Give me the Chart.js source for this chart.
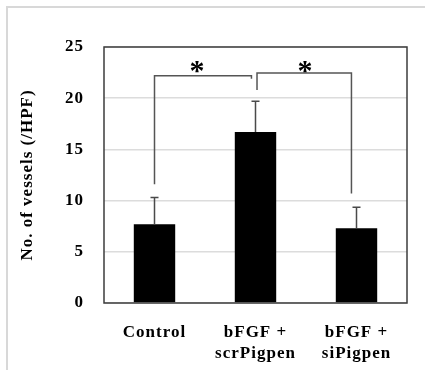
<!DOCTYPE html>
<html><head><meta charset="utf-8">
<script src="https://cdn.jsdelivr.net/npm/chart.js@4.4.1/dist/chart.umd.min.js"></script>
<style>
html,body{margin:0;padding:0;background:#fff;}
#wrap{position:relative;width:425px;height:370px;overflow:hidden;}
#frame{position:absolute;left:6px;top:6px;width:500px;height:500px;border-top:2px solid #d8d8d8;border-left:2px solid #d8d8d8;pointer-events:none;}
canvas{position:absolute;left:0;top:0;}
</style></head><body>
<div id="wrap"><canvas id="c" width="425" height="370"></canvas><div id="frame"></div></div>
<script>
// ---- data ----
const categories = [['Control'], ['bFGF +', 'scrPigpen'], ['bFGF +', 'siPigpen']];
const meanVessels = [7.7, 16.7, 7.3];
const errorUpper = [10.3, 19.7, 9.35];
const yTicks = [0, 5, 10, 15, 20, 25];
const yTitle = 'No. of vessels (/HPF)';
// significance brackets (category index, value)
const bracket1X = [0, 0, 0.96, 0.96];
const bracket1Y = [11.6, 22.2, 22.2, 21.9];
const bracket2X = [1.015, 1.015, 1.95, 1.95];
const bracket2Y = [20.8, 22.45, 22.45, 10.7];
const starLabels = ['*', '*'];
const starX = [0.42, 1.49];
const starY = [22.55, 22.55];

const SERIF = '"Liberation Serif", "Times New Roman", serif';

const spacingPlugin = {
  id: 'spacing',
  beforeLayout(c) { c.ctx.letterSpacing = '1px'; },
  beforeDraw(c) { c.ctx.letterSpacing = '1px'; }
};

const extrasPlugin = {
  id: 'extras',
  afterDatasetsDraw(c) {
    const ctx = c.ctx, xs = c.scales.x, ys = c.scales.y, a = c.chartArea;
    ctx.save();
    // error bars
    ctx.strokeStyle = '#4a4a4a';
    ctx.lineWidth = 1.5;
    meanVessels.forEach((v, i) => {
      const x = xs.getPixelForValue(i);
      const y0 = ys.getPixelForValue(v);
      const y1 = ys.getPixelForValue(errorUpper[i]);
      ctx.beginPath();
      ctx.moveTo(x, y0); ctx.lineTo(x, y1);
      ctx.moveTo(x - 4, y1); ctx.lineTo(x + 4, y1);
      ctx.stroke();
    });
    // brackets
    ctx.strokeStyle = '#555';
    ctx.lineWidth = 1.5;
    [[bracket1X, bracket1Y], [bracket2X, bracket2Y]].forEach(([bx, by]) => {
      ctx.beginPath();
      bx.forEach((xv, k) => {
        const px = xs.getPixelForValue(xv), py = ys.getPixelForValue(by[k]);
        if (k === 0) ctx.moveTo(px, py); else ctx.lineTo(px, py);
      });
      ctx.stroke();
    });
    // stars
    ctx.letterSpacing = '0px';
    ctx.fillStyle = '#000';
    ctx.font = 'bold 30px ' + SERIF;
    ctx.textAlign = 'center';
    ctx.textBaseline = 'middle';
    starLabels.forEach((s, k) => {
      ctx.fillText(s, xs.getPixelForValue(starX[k]), ys.getPixelForValue(starY[k]));
    });
    // plot border
    ctx.strokeStyle = '#3c3c3c';
    ctx.lineWidth = 1.5;
    ctx.strokeRect(a.left, a.top, a.right - a.left, a.bottom - a.top);
    ctx.restore();
  }
};

new Chart(document.getElementById('c'), {
  type: 'bar',
  data: {
    labels: categories,
    datasets: [{
      data: meanVessels,
      backgroundColor: '#000',
      borderWidth: 0,
      barPercentage: 0.41,
      categoryPercentage: 1.0
    }]
  },
  options: {
    responsive: false,
    devicePixelRatio: 1,
    animation: false,
    layout: { padding: { left: 0, top: 47, right: 18, bottom: 0 } },
    plugins: { legend: { display: false }, tooltip: { enabled: false } },
    scales: {
      x: {
        grid: { display: false },
        border: { display: false },
        ticks: {
          color: '#000',
          padding: 11,
          maxRotation: 0,
          autoSkip: false,
          font: { family: SERIF, size: 17, weight: 'bold', lineHeight: 1.25 }
        },
        afterFit(s) { s.height = 67; }
      },
      y: {
        min: 0, max: 25,
        afterBuildTicks(s) { s.ticks = yTicks.map(v => ({ value: v })); },
        grid: { color: '#dcdcdc', lineWidth: 1.5, drawTicks: false },
        border: { display: false },
        ticks: {
          color: '#000',
          padding: 20,
          font: { family: SERIF, size: 17, weight: 'bold' }
        },
        title: {
          display: true,
          text: yTitle,
          color: '#000',
          padding: { top: 17, bottom: 0 },
          font: { family: SERIF, size: 17, weight: 'bold', lineHeight: 1.2 }
        },
        afterFit(s) { s.width = 104; }
      }
    }
  },
  plugins: [spacingPlugin, extrasPlugin]
});
</script>
</body></html>
